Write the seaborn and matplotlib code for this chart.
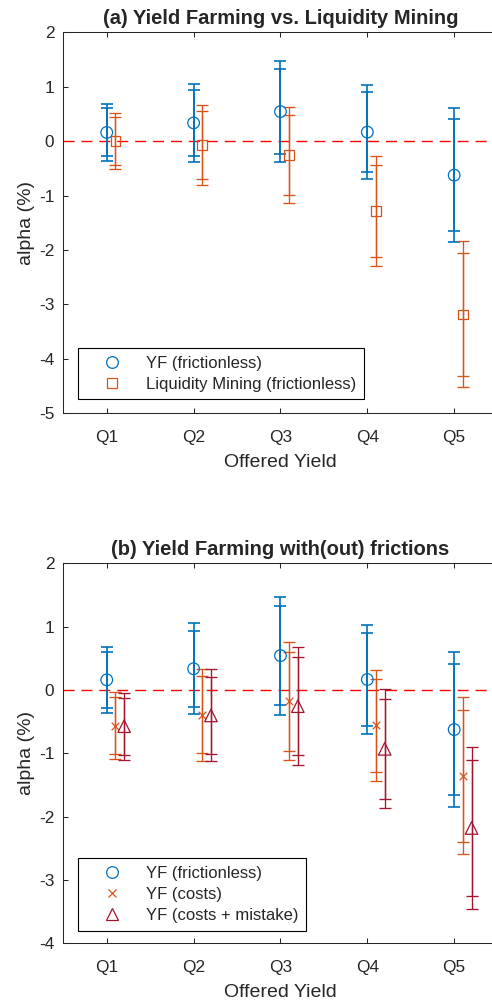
import numpy as np
import pandas as pd
import matplotlib
matplotlib.use("Agg")
import matplotlib.pyplot as plt
import seaborn as sns
from matplotlib.lines import Line2D

# ---------------- data ----------------
quantiles = ["Q1", "Q2", "Q3", "Q4", "Q5"]

yf_alpha = [0.16, 0.335, 0.543, 0.166, -0.625]
yf_ci95 = [0.52, 0.715, 0.932, 0.864, 1.226]
yf_ci90 = [0.44, 0.600, 0.780, 0.729, 1.028]

lm_alpha = [0.0, -0.07, -0.257, -1.286, -3.184]
lm_ci95 = [0.517, 0.738, 0.888, 1.011, 1.341]
lm_ci90 = [0.435, 0.625, 0.741, 0.849, 1.133]

costs_alpha = [-0.565, -0.392, -0.178, -0.559, -1.356]
costs_ci95 = [0.527, 0.727, 0.929, 0.879, 1.240]
costs_ci90 = [0.450, 0.605, 0.779, 0.740, 1.040]

mistake_alpha = [-0.572, -0.402, -0.256, -0.930, -2.180]
mistake_ci95 = [0.530, 0.726, 0.929, 0.939, 1.280]
mistake_ci90 = [0.450, 0.605, 0.778, 0.789, 1.076]

title_a = "(a) Yield Farming vs. Liquidity Mining"
title_b = "(b) Yield Farming with(out) frictions"
xlabel = "Offered Yield"
ylabel = "alpha (%)"

# ---------------- style ----------------
sns.set_style("ticks")
plt.rcParams["font.family"] = ["Liberation Sans", "DejaVu Sans"]
plt.rcParams["axes.unicode_minus"] = False
plt.rcParams["axes.edgecolor"] = "#262626"
plt.rcParams["xtick.color"] = "#262626"
plt.rcParams["ytick.color"] = "#262626"

BLUE = "#0072BD"
ORANGE = "#D95319"
RED = "#A2142F"

fig = plt.figure(figsize=(4.92, 10.02), dpi=100)
axA = fig.add_axes([0.1287, 0.5875, 0.8827, 0.3803])
axB = fig.add_axes([0.1287, 0.0586, 0.8827, 0.3792])


def draw_series(ax, offset, alpha, ci95, ci90, color, marker, size, lw):
    x = np.arange(1, len(quantiles) + 1) + offset
    for ci in (ci95, ci90):
        ax.errorbar(x, alpha, yerr=ci, fmt="none", ecolor=color,
                    elinewidth=lw, capsize=4.3, capthick=lw, zorder=3)
    df = pd.DataFrame({"x": x, "alpha": alpha})
    if marker == "x":
        sns.scatterplot(data=df, x="x", y="alpha", ax=ax, marker=marker,
                        s=size, color=color, linewidth=0.9, zorder=4,
                        legend=False)
    else:
        sns.scatterplot(data=df, x="x", y="alpha", ax=ax, marker=marker,
                        s=size, facecolor="none", edgecolor=color,
                        linewidth=0.9, zorder=4, legend=False)


def style_axes(ax, ylim, title):
    ax.axhline(0, color="#FF0000", lw=1.0, dashes=(7.9, 5.0), zorder=2)
    ax.set_xlim(0.5, 5.5)
    ax.set_ylim(*ylim)
    ax.set_xticks(np.arange(1, len(quantiles) + 1))
    ax.set_xticklabels(quantiles)
    ax.set_yticks(np.arange(ylim[0], ylim[1] + 1))
    ax.tick_params(axis="both", direction="in", length=3.5, width=0.75,
                   top=True, right=False, labelsize=12.4)
    ax.tick_params(axis="x", pad=12.0)
    ax.tick_params(axis="y", pad=6.5)
    for name, sp in ax.spines.items():
        sp.set_visible(name != "right")
        sp.set_linewidth(0.75)
    ax.set_xlabel(xlabel, fontsize=14, labelpad=6.5)
    ax.set_ylabel(ylabel, fontsize=14, labelpad=3)
    ax.set_title(title, fontsize=14.5, fontweight="bold", pad=6)


def legend_handle(marker, color, ms):
    if marker == "x":
        return Line2D([], [], marker=marker, linestyle="none", color=color,
                      markersize=ms, markeredgewidth=0.9)
    return Line2D([], [], marker=marker, linestyle="none",
                  markerfacecolor="none", markeredgecolor=color,
                  markersize=ms, markeredgewidth=0.9)


# ---------------- panel (a) ----------------
draw_series(axA, 0.0, yf_alpha, yf_ci95, yf_ci90, BLUE, "o", 70, 1.2)
draw_series(axA, 0.1, lm_alpha, lm_ci95, lm_ci90, ORANGE, "s", 49, 0.95)
style_axes(axA, (-5, 2), title_a)
legA = axA.legend(
    handles=[legend_handle("o", BLUE, 8.4), legend_handle("s", ORANGE, 7)],
    labels=["YF (frictionless)", "Liquidity Mining (frictionless)"],
    loc="lower left", bbox_to_anchor=(0.0345, 0.0367), borderaxespad=0,
    fontsize=12, frameon=True, fancybox=False, edgecolor="black",
    framealpha=1, borderpad=0.45, handlelength=3.2, handletextpad=0.4,
    labelspacing=0.38)
legA.get_frame().set_linewidth(0.8)

# ---------------- panel (b) ----------------
draw_series(axB, 0.0, yf_alpha, yf_ci95, yf_ci90, BLUE, "o", 70, 1.2)
draw_series(axB, 0.1, costs_alpha, costs_ci95, costs_ci90, ORANGE, "x", 30, 0.95)
draw_series(axB, 0.2, mistake_alpha, mistake_ci95, mistake_ci90, RED, "^", 81, 0.95)
style_axes(axB, (-4, 2), title_b)
legB = axB.legend(
    handles=[legend_handle("o", BLUE, 8.4), legend_handle("x", ORANGE, 5.5),
             legend_handle("^", RED, 9)],
    labels=["YF (frictionless)", "YF (costs)", "YF (costs + mistake)"],
    loc="lower left", bbox_to_anchor=(0.0345, 0.0332), borderaxespad=0,
    fontsize=12, frameon=True, fancybox=False, edgecolor="black",
    framealpha=1, borderpad=0.45, handlelength=3.2, handletextpad=0.4,
    labelspacing=0.38)
legB.get_frame().set_linewidth(0.8)

fig.savefig("out.png", dpi=100)
